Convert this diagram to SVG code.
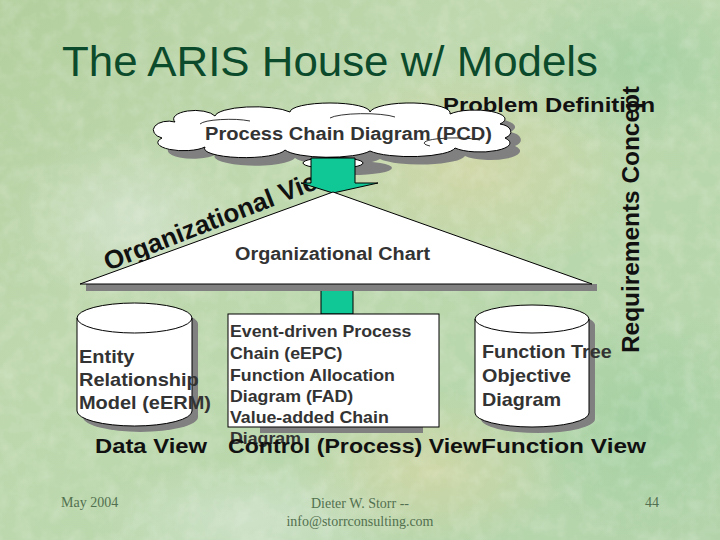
<svg xmlns="http://www.w3.org/2000/svg" width="720" height="540" viewBox="0 0 720 540">
<defs>
<linearGradient id="bg" x1="0" y1="0" x2="1" y2="1">
<stop offset="0" stop-color="#b3cf9e"/>
<stop offset="0.35" stop-color="#bfd8ae"/>
<stop offset="0.65" stop-color="#b9d7ac"/>
<stop offset="1" stop-color="#b3d4ab"/>
</linearGradient>
<radialGradient id="blobY" cx="0.5" cy="0.5" r="0.5">
<stop offset="0" stop-color="#dcd6a2" stop-opacity="0.6"/>
<stop offset="1" stop-color="#dcd6a2" stop-opacity="0"/>
</radialGradient>
<radialGradient id="blobW" cx="0.5" cy="0.5" r="0.5">
<stop offset="0" stop-color="#dde9dc" stop-opacity="0.6"/>
<stop offset="1" stop-color="#dde9dc" stop-opacity="0"/>
</radialGradient>
<radialGradient id="blobG" cx="0.5" cy="0.5" r="0.5">
<stop offset="0" stop-color="#98cc9c" stop-opacity="0.6"/>
<stop offset="1" stop-color="#98cc9c" stop-opacity="0"/>
</radialGradient>
<filter id="tex" x="0" y="0" width="100%" height="100%">
<feTurbulence type="fractalNoise" baseFrequency="0.06" numOctaves="3" seed="4"/>
<feColorMatrix type="matrix" values="0 0 0 0 1  0 0 0 0 1  0 0 0 0 1  0 0 0 -1.4 0.85"/>
</filter>
<path id="orgArc" d="M108,271 L345,178"/>
<style>
.b{font-family:"Liberation Sans",Arial,sans-serif;font-weight:bold}
.r{font-family:"Liberation Sans",Arial,sans-serif}
.dk{fill:#333333}
.bk{fill:#111111}
.ft{font-family:"Liberation Serif","Times New Roman",serif;font-size:14px;fill:#52704f}
.shape{fill:#ffffff;stroke:#000000;stroke-width:1}
.shadow{fill:#808080}
.green{fill:#10c896;stroke:#000000;stroke-width:1}
</style>
</defs>

<g id="background">
<rect width="720" height="540" fill="url(#bg)"/>
<ellipse cx="470" cy="170" rx="170" ry="110" fill="url(#blobY)"/>
<ellipse cx="430" cy="470" rx="140" ry="80" fill="url(#blobY)"/>
<ellipse cx="130" cy="220" rx="120" ry="90" fill="url(#blobW)"/>
<ellipse cx="250" cy="520" rx="160" ry="60" fill="url(#blobW)"/>
<ellipse cx="640" cy="60" rx="140" ry="90" fill="url(#blobG)"/>
<ellipse cx="640" cy="420" rx="120" ry="120" fill="url(#blobG)"/>
<rect width="720" height="540" filter="url(#tex)" opacity="0.25"/>
</g>

<g id="title">
<text x="62" y="76" class="r" font-size="42" fill="#0c4a2c" textLength="536" lengthAdjust="spacingAndGlyphs">The ARIS House w/ Models</text>
</g>

<g id="org-view-label">
<text class="b bk" font-size="26"><textPath href="#orgArc">Organizational View</textPath></text>
</g>

<g id="problem-definition">
<text x="443" y="112" class="b bk" font-size="21" textLength="212" lengthAdjust="spacingAndGlyphs">Problem Definition</text>
</g>

<g id="pcd-cloud">
<path class="shadow" transform="translate(10,8)" d="M175,122 A20,8 0 0 1 215,116 A40,10 0 0 1 290,112 A40,9 0 0 1 370,112 A40,10 0 0 1 450,114 A30,9 0 0 1 500,124 A15,8 0 0 1 505,138 A30,9 0 0 1 455,148 A45,10 0 0 1 370,151 A45,10 0 0 1 285,150 A40,9 0 0 1 205,147 A25,8 0 0 1 162,138 A12,7 0 0 1 175,122 Z"/>
<path class="shape" d="M175,122 A20,8 0 0 1 215,116 A40,10 0 0 1 290,112 A40,9 0 0 1 370,112 A40,10 0 0 1 450,114 A30,9 0 0 1 500,124 A15,8 0 0 1 505,138 A30,9 0 0 1 455,148 A45,10 0 0 1 370,151 A45,10 0 0 1 285,150 A40,9 0 0 1 205,147 A25,8 0 0 1 162,138 A12,7 0 0 1 175,122 Z"/>
<path d="M200,124 A30,6 0 0 1 250,121 M330,118 A35,6 0 0 1 395,117 M430,146 A30,5 0 0 1 480,140" fill="none" stroke="#000" stroke-width="0.8"/>
<ellipse cx="352" cy="168" rx="40" ry="7" class="shadow"/>
<ellipse cx="333" cy="163" rx="30" ry="5.5" class="shape"/>
<text x="205" y="140" class="b dk" font-size="18" textLength="287" lengthAdjust="spacingAndGlyphs">Process Chain Diagram (PCD)</text>
</g>

<g id="requirements-concept">
<text transform="translate(639,353) rotate(-90)" class="b bk" font-size="24" textLength="267" lengthAdjust="spacingAndGlyphs">Requirements Concept</text>
</g>

<g id="connectors">
<path class="green" d="M311,158 L355,158 L355,183 L378,183 L333,193 L301,183 L311,183 Z"/>
<rect class="green" x="321" y="288" width="32" height="26"/>
</g>

<g id="org-roof">
<rect class="shadow" x="86" y="284" width="511" height="7"/>
<path class="shape" d="M333,192 L592,284 L80,284 Z"/>
<text x="235" y="260" class="b dk" font-size="18" textLength="195" lengthAdjust="spacingAndGlyphs">Organizational Chart</text>
</g>

<g id="data-store">
<path class="shadow" transform="translate(6,6)" d="M77,318 A57.5,15 0 0 1 192,318 L192,411 A57.5,15 0 0 1 77,411 Z"/>
<path class="shape" d="M77,318 A57.5,15 0 0 1 192,318 L192,411 A57.5,15 0 0 1 77,411 Z"/>
<path d="M77,318 A57.5,15 0 0 0 192,318" fill="none" stroke="#000" stroke-width="1"/>
<text class="b dk" font-size="18" transform="translate(79,0) scale(1.11,1) translate(-79,0)"><tspan x="79" y="363">Entity</tspan><tspan x="79" y="386">Relationship</tspan><tspan x="79" y="409">Model (eERM)</tspan></text>
</g>

<g id="control-box">
<rect class="shadow" x="260" y="320" width="163" height="113"/>
<rect class="shape" x="228" y="314" width="211" height="113"/>
<text class="b dk" font-size="16" transform="translate(230,0) scale(1.11,1) translate(-230,0)"><tspan x="230" y="337">Event-driven Process</tspan><tspan x="230" y="359">Chain (eEPC)</tspan><tspan x="230" y="381">Function Allocation</tspan><tspan x="230" y="402">Diagram (FAD)</tspan><tspan x="230" y="423">Value-added Chain</tspan><tspan x="230" y="444">Diagram</tspan></text>
</g>

<g id="function-store">
<path class="shadow" transform="translate(6,6)" d="M475,319 A57,14 0 0 1 589,319 L589,413 A57,14 0 0 1 475,413 Z"/>
<path class="shape" d="M475,319 A57,14 0 0 1 589,319 L589,413 A57,14 0 0 1 475,413 Z"/>
<path d="M475,319 A57,14 0 0 0 589,319" fill="none" stroke="#000" stroke-width="1"/>
<text class="b dk" font-size="18" transform="translate(482,0) scale(1.1,1) translate(-482,0)"><tspan x="482" y="358">Function Tree</tspan><tspan x="482" y="382">Objective</tspan><tspan x="482" y="406">Diagram</tspan></text>
</g>

<g id="view-labels">
<text x="95" y="453" class="b bk" font-size="21" textLength="112" lengthAdjust="spacingAndGlyphs">Data View</text>
<text x="228" y="453" class="b bk" font-size="21" textLength="253" lengthAdjust="spacingAndGlyphs">Control (Process) View</text>
<text x="481" y="453" class="b bk" font-size="21" textLength="165" lengthAdjust="spacingAndGlyphs">Function View</text>
</g>

<g id="footer">
<text x="61" y="507" class="ft">May 2004</text>
<text x="360" y="508" class="ft" text-anchor="middle">Dieter W. Storr --</text>
<text x="360" y="526" class="ft" text-anchor="middle">info@storrconsulting.com</text>
<text x="645" y="507" class="ft">44</text>
</g>
</svg>
